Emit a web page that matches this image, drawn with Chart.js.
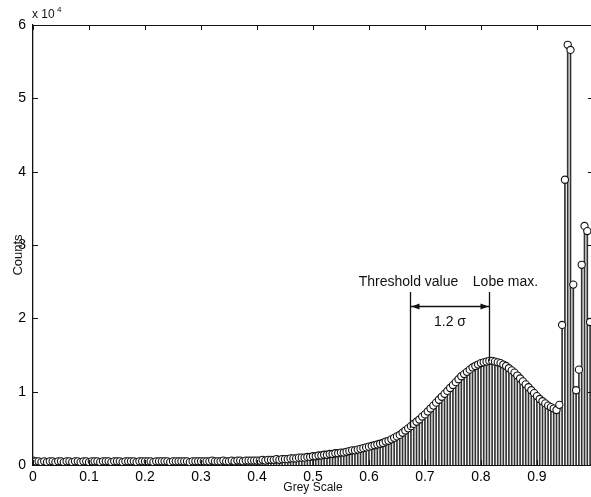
<!DOCTYPE html>
<html>
<head>
<meta charset="utf-8">
<script src="https://cdn.jsdelivr.net/npm/chart.js@4.4.1/dist/chart.umd.min.js"></script>
<style>
  html, body { margin: 0; padding: 0; background: #fff; overflow: hidden; }
  #wrap { width: 598px; height: 497px; }
</style>
</head>
<body>
<div id="wrap"><canvas id="histChart"></canvas></div>
<script>
// grey level of each bin
const greyLevels = [
  0.000,0.005,0.010,0.015,0.020,0.025,0.030,0.035,0.040,0.045,
  0.050,0.055,0.060,0.065,0.070,0.075,0.080,0.085,0.090,0.095,
  0.100,0.105,0.110,0.115,0.120,0.125,0.130,0.135,0.140,0.145,
  0.150,0.155,0.160,0.165,0.170,0.175,0.180,0.185,0.190,0.195,
  0.200,0.205,0.210,0.215,0.220,0.225,0.230,0.235,0.240,0.245,
  0.250,0.255,0.260,0.265,0.270,0.275,0.280,0.285,0.290,0.295,
  0.300,0.305,0.310,0.315,0.320,0.325,0.330,0.335,0.340,0.345,
  0.350,0.355,0.360,0.365,0.370,0.375,0.380,0.385,0.390,0.395,
  0.400,0.405,0.410,0.415,0.420,0.425,0.430,0.435,0.440,0.445,
  0.450,0.455,0.460,0.465,0.470,0.475,0.480,0.485,0.490,0.495,
  0.500,0.505,0.510,0.515,0.520,0.525,0.530,0.535,0.540,0.545,
  0.550,0.555,0.560,0.565,0.570,0.575,0.580,0.585,0.590,0.595,
  0.600,0.605,0.610,0.615,0.620,0.625,0.630,0.635,0.640,0.645,
  0.650,0.655,0.660,0.665,0.670,0.675,0.680,0.685,0.690,0.695,
  0.700,0.705,0.710,0.715,0.720,0.725,0.730,0.735,0.740,0.745,
  0.750,0.755,0.760,0.765,0.770,0.775,0.780,0.785,0.790,0.795,
  0.800,0.805,0.810,0.815,0.820,0.825,0.830,0.835,0.840,0.845,
  0.850,0.855,0.860,0.865,0.870,0.875,0.880,0.885,0.890,0.895,
  0.900,0.905,0.910,0.915,0.920,0.925,0.930,0.935,0.940,0.945,
  0.950,0.955,0.960,0.965,0.970,0.975,0.980,0.985,0.990,0.995
];

// counts per bin, in units of 10^4
const counts = [
  0.06,0.05,0.05,0.04,0.05,0.04,0.05,0.05,0.04,0.05,
  0.05,0.04,0.05,0.05,0.04,0.05,0.05,0.04,0.05,0.05,
  0.04,0.05,0.05,0.05,0.04,0.05,0.05,0.05,0.04,0.05,
  0.05,0.05,0.04,0.05,0.05,0.05,0.05,0.04,0.05,0.05,
  0.05,0.05,0.05,0.04,0.05,0.05,0.05,0.05,0.05,0.04,
  0.05,0.05,0.05,0.05,0.05,0.05,0.04,0.05,0.05,0.05,
  0.05,0.05,0.05,0.05,0.06,0.05,0.05,0.05,0.06,0.05,
  0.05,0.06,0.05,0.06,0.06,0.05,0.06,0.06,0.06,0.06,
  0.06,0.06,0.07,0.06,0.07,0.07,0.07,0.08,0.07,0.08,
  0.08,0.08,0.09,0.09,0.09,0.10,0.10,0.10,0.11,0.11,
  0.12,0.12,0.13,0.13,0.14,0.14,0.15,0.15,0.16,0.16,
  0.17,0.17,0.18,0.19,0.20,0.20,0.21,0.22,0.23,0.24,
  0.25,0.26,0.27,0.28,0.29,0.30,0.32,0.33,0.35,0.37,
  0.39,0.41,0.44,0.47,0.50,0.53,0.56,0.59,0.62,0.66,
  0.69,0.73,0.77,0.81,0.85,0.89,0.93,0.97,1.01,1.05,
  1.09,1.13,1.17,1.21,1.24,1.27,1.30,1.33,1.35,1.37,
  1.39,1.40,1.41,1.42,1.42,1.41,1.40,1.39,1.37,1.35,
  1.32,1.29,1.26,1.22,1.18,1.14,1.10,1.06,1.02,0.98,
  0.94,0.90,0.87,0.84,0.81,0.79,0.77,0.75,0.82,1.91,
  3.89,5.73,5.66,2.46,1.02,1.30,2.73,3.26,3.19,1.95
];

const xTicks = [0, 0.1, 0.2, 0.3, 0.4, 0.5, 0.6, 0.7, 0.8, 0.9];
const yTicks = [0, 1, 2, 3, 4, 5, 6];

const thresholdValue = 0.673;
const lobeMax = 0.814;

const points = greyLevels.map((g, i) => ({ x: g, y: counts[i] }));
const FONT = "'Liberation Sans', Arial, sans-serif";

const stemAnnotations = {
  id: 'stemAnnotations',
  afterDraw(chart) {
    const ctx = chart.ctx;
    const xs = chart.scales.x, ys = chart.scales.y;
    const a = chart.chartArea;
    ctx.save();
    ctx.strokeStyle = '#111';
    ctx.lineWidth = 1;

    // box top line and inward ticks
    ctx.beginPath();
    ctx.moveTo(a.left, a.top + 0.5);
    ctx.lineTo(a.right, a.top + 0.5);
    xTicks.forEach(v => {
      const px = Math.round(xs.getPixelForValue(v)) + 0.5;
      ctx.moveTo(px, a.top); ctx.lineTo(px, a.top + 5);
      ctx.moveTo(px, a.bottom); ctx.lineTo(px, a.bottom - 5);
    });
    yTicks.forEach(v => {
      const py = Math.round(ys.getPixelForValue(v)) + 0.5;
      ctx.moveTo(a.left, py); ctx.lineTo(a.left + 5, py);
      ctx.moveTo(a.right, py); ctx.lineTo(a.right - 5, py);
    });
    ctx.stroke();

    // threshold / lobe lines
    const tx = Math.round(xs.getPixelForValue(thresholdValue)) + 0.5;
    const lx = Math.round(xs.getPixelForValue(lobeMax)) + 0.5;
    ctx.lineWidth = 1.3;
    ctx.beginPath();
    ctx.moveTo(tx, ys.getPixelForValue(2.36));
    ctx.lineTo(tx, ys.getPixelForValue(0.5));
    ctx.moveTo(lx, ys.getPixelForValue(2.36));
    ctx.lineTo(lx, ys.getPixelForValue(1.42));
    const ay = Math.round(ys.getPixelForValue(2.17)) + 0.5;
    ctx.moveTo(tx, ay); ctx.lineTo(lx, ay);
    ctx.stroke();
    ctx.fillStyle = '#111';
    ctx.beginPath();
    ctx.moveTo(tx + 1, ay); ctx.lineTo(tx + 9, ay - 3); ctx.lineTo(tx + 9, ay + 3); ctx.closePath();
    ctx.moveTo(lx - 1, ay); ctx.lineTo(lx - 9, ay - 3); ctx.lineTo(lx - 9, ay + 3); ctx.closePath();
    ctx.fill();

    ctx.textAlign = 'center';
    ctx.textBaseline = 'middle';
    ctx.font = '14px ' + FONT;
    const ty = ys.getPixelForValue(2.5);
    ctx.fillText('Threshold value', tx - 2, ty);
    ctx.fillText('Lobe max.', lx + 16, ty);
    ctx.fillText('1.2 \u03c3', (tx + lx) / 2, ys.getPixelForValue(1.95));

    // axis titles
    ctx.font = '12px ' + FONT;
    ctx.fillText('Grey Scale', 313, 488);
    ctx.save();
    ctx.translate(18, 255);
    ctx.rotate(-Math.PI / 2);
    ctx.font = '13px ' + FONT;
    ctx.fillText('Counts', 0, 0);
    ctx.restore();

    // exponent label
    ctx.textAlign = 'left';
    ctx.font = '12px ' + FONT;
    ctx.fillText('x 10', 32, 15);
    ctx.font = '8px ' + FONT;
    ctx.fillText('4', 57, 10);
    ctx.restore();
  }
};

new Chart(document.getElementById('histChart'), {
  type: 'bar',
  data: {
    datasets: [
      {
        type: 'scatter',
        data: points,
        order: 0,
        showLine: false,
        pointStyle: 'circle',
        pointRadius: 3.6,
        pointBorderWidth: 1.1,
        pointBorderColor: '#111',
        pointBackgroundColor: '#ffffff'
      },
      {
        type: 'bar',
        data: points,
        order: 1,
        barThickness: 1,
        backgroundColor: '#333',
        borderWidth: 0
      }
    ]
  },
  options: {
    responsive: true,
    maintainAspectRatio: false,
    animation: false,
    events: [],
    layout: { padding: { top: 25, right: 0, left: 0, bottom: 0 } },
    plugins: { legend: { display: false }, tooltip: { enabled: false } },
    scales: {
      x: {
        type: 'linear',
        min: 0,
        max: 1,
        offset: false,
        afterFit: s => { s.height = 32; },
        afterBuildTicks: s => { s.ticks = xTicks.map(v => ({ value: v })); },
        grid: { display: false, drawTicks: false },
        border: { display: true, color: '#111', width: 1 },
        ticks: {
          padding: 4,
          color: '#000',
          font: { family: FONT, size: 14 },
          maxRotation: 0,
          autoSkip: false,
          callback: v => String(v)
        }
      },
      y: {
        min: 0,
        max: 6,
        afterFit: s => { s.width = 33; },
        afterBuildTicks: s => { s.ticks = yTicks.map(v => ({ value: v })); },
        grid: { display: false, drawTicks: false },
        border: { display: true, color: '#111', width: 1.3 },
        ticks: {
          padding: 7,
          color: '#000',
          font: { family: FONT, size: 14 },
          callback: v => String(v)
        }
      }
    }
  },
  plugins: [stemAnnotations]
});
</script>
</body>
</html>
